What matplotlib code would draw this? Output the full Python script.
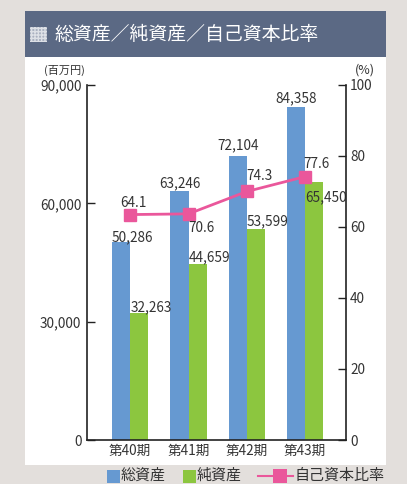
import matplotlib
matplotlib.use("Agg")
import matplotlib.pyplot as plt
from matplotlib.patches import Rectangle
from matplotlib.lines import Line2D
import numpy as np

plt.rcParams['font.family'] = ['Noto Sans CJK JP', 'DejaVu Sans']

categories = ['第40期', '第41期', '第42期', '第43期']
total_assets = [50286, 63246, 72104, 84358]
net_assets = [32263, 44659, 53599, 65450]
ratio_plotted = [63.5, 63.7, 70.0, 74.2]
ratio_labels = ['64.1', '70.6', '74.3', '77.6']
left_ticks = [0, 30000, 60000, 90000]
right_ticks = [0, 20, 40, 60, 80, 100]
legend_labels = ['総資産', '純資産', '自己資本比率']

W, H = 407, 484
fig = plt.figure(figsize=(W / 100, H / 100), dpi=100)
fig.patch.set_facecolor('#e3dfdc')

def fx(px):
    return px / W

def fy(py):
    return 1 - py / H

# white panel
fig.add_artist(Rectangle((fx(25), fy(465)), fx(386) - fx(25), fy(57) - fy(465),
                         transform=fig.transFigure, facecolor='white', edgecolor='none', zorder=0))
# title bar
fig.add_artist(Rectangle((fx(25), fy(57)), fx(386) - fx(25), fy(11) - fy(57),
                         transform=fig.transFigure, facecolor='#5b6984', edgecolor='none', zorder=0))
# icon
fig.add_artist(Rectangle((fx(30), fy(42)), fx(17), fy(27) - fy(42),
                         transform=fig.transFigure, facecolor='#aab1c0', edgecolor='#dde0e6',
                         hatch='+++++', linewidth=0, zorder=1))
fig.text(fx(55), fy(34.5), '総資産／純資産／自己資本比率', color='white', fontsize=13.6,
         ha='left', va='center')

text_color = '#333333'
blue = '#6699d1'
green = '#8cc63f'
pink = '#ea579b'

ax = fig.add_axes([fx(87), fy(440), fx(346) - fx(87), fy(85) - fy(440)])
ax.set_facecolor('none')
x = np.arange(len(categories))
bw = 0.31
ax.bar(x - bw / 2, total_assets, width=bw, color=blue, zorder=2)
ax.bar(x + bw / 2, net_assets, width=bw, color=green, zorder=2)
ax.set_xlim(-0.74, 3.70)
ax.set_ylim(0, 90000)
ax.set_yticks(left_ticks)
ax.set_yticklabels([f'{v:,}' for v in left_ticks])
ax.set_xticks(x)
ax.set_xticklabels(categories)
ax.tick_params(axis='y', direction='in', length=6, width=1, pad=4, labelsize=9.8, colors='#222222',
               labelcolor=text_color)
ax.tick_params(axis='x', length=0, pad=3, labelsize=9.8, labelcolor=text_color)
ax.spines['top'].set_visible(False)
ax.spines['right'].set_visible(False)
for s in ['left', 'bottom']:
    ax.spines[s].set_color('#222222')
    ax.spines[s].set_linewidth(1.2)

ax2 = ax.twinx()
ax2.set_ylim(0, 100)
ax2.set_yticks(right_ticks)
ax2.tick_params(axis='y', direction='in', length=6, width=1, pad=3, labelsize=9.8, colors='#222222',
                labelcolor=text_color)
for s in ['top', 'left', 'bottom']:
    ax2.spines[s].set_visible(False)
ax2.spines['right'].set_color('#222222')
ax2.spines['right'].set_linewidth(1.2)
ax2.plot(x, ratio_plotted, color=pink, linewidth=2, marker='s', markersize=8.5, zorder=5)

# bar value labels (anchor, ha, offsets in points)
blue_style = [('left', 0, 3.3), ('center', 0, 5.5), ('center', 0, 7.5), ('center', 0, 6.7)]
green_style = [('left', 0, 4), ('left', 0, 5), ('left', 0, 5), ('left', 0, -10.8)]
for i, v in enumerate(total_assets):
    ha, dx, dy = blue_style[i]
    ax_x = x[i] - bw if ha == 'left' else x[i] - bw / 2
    ax.annotate(f'{v:,}', (ax_x, v), xytext=(dx, dy), textcoords='offset points',
                ha=ha, va='center', fontsize=9.8, color=text_color, zorder=6)
for i, v in enumerate(net_assets):
    ha, dx, dy = green_style[i]
    ax.annotate(f'{v:,}', (x[i], v), xytext=(dx, dy), textcoords='offset points',
                ha=ha, va='center', fontsize=9.8, color=text_color, zorder=6)

ratio_offsets = [(2.5, 8.6), (9.4, -10), (9, 10.8), (8.3, 9.4)]
for i, v in enumerate(ratio_plotted):
    dx, dy = ratio_offsets[i]
    ax2.annotate(ratio_labels[i], (x[i], v), xytext=(dx, dy), textcoords='offset points',
                 ha='center', va='center', fontsize=9.8, color=text_color, zorder=6)

fig.text(fx(64), fy(70), '(百万円)', fontsize=8, ha='center', va='center', color=text_color)
fig.text(fx(365), fy(70), '(%)', fontsize=9, ha='center', va='center', color=text_color)

# legend (drawn manually)
ly = fy(476)
sq_w = fx(13)
sq_h = 13 / H
fig.add_artist(Rectangle((fx(107), ly - sq_h / 2), sq_w, sq_h, transform=fig.transFigure,
                         facecolor=blue, edgecolor='none'))
fig.text(fx(121), ly, legend_labels[0], fontsize=10.8, ha='left', va='center', color=text_color)
fig.add_artist(Rectangle((fx(183), ly - sq_h / 2), sq_w, sq_h, transform=fig.transFigure,
                         facecolor=green, edgecolor='none'))
fig.text(fx(197), ly, legend_labels[1], fontsize=10.8, ha='left', va='center', color=text_color)
fig.add_artist(Line2D([fx(258), fx(293)], [ly, ly], transform=fig.transFigure, color=pink, linewidth=1.5))
fig.add_artist(Rectangle((fx(273), ly - 14 / H / 2), fx(14), 14 / H, transform=fig.transFigure,
                         facecolor=pink, edgecolor='none'))
fig.text(fx(295), ly, legend_labels[2], fontsize=10.8, ha='left', va='center', color=text_color)

fig.savefig('out.png', dpi=100, facecolor=fig.get_facecolor())
